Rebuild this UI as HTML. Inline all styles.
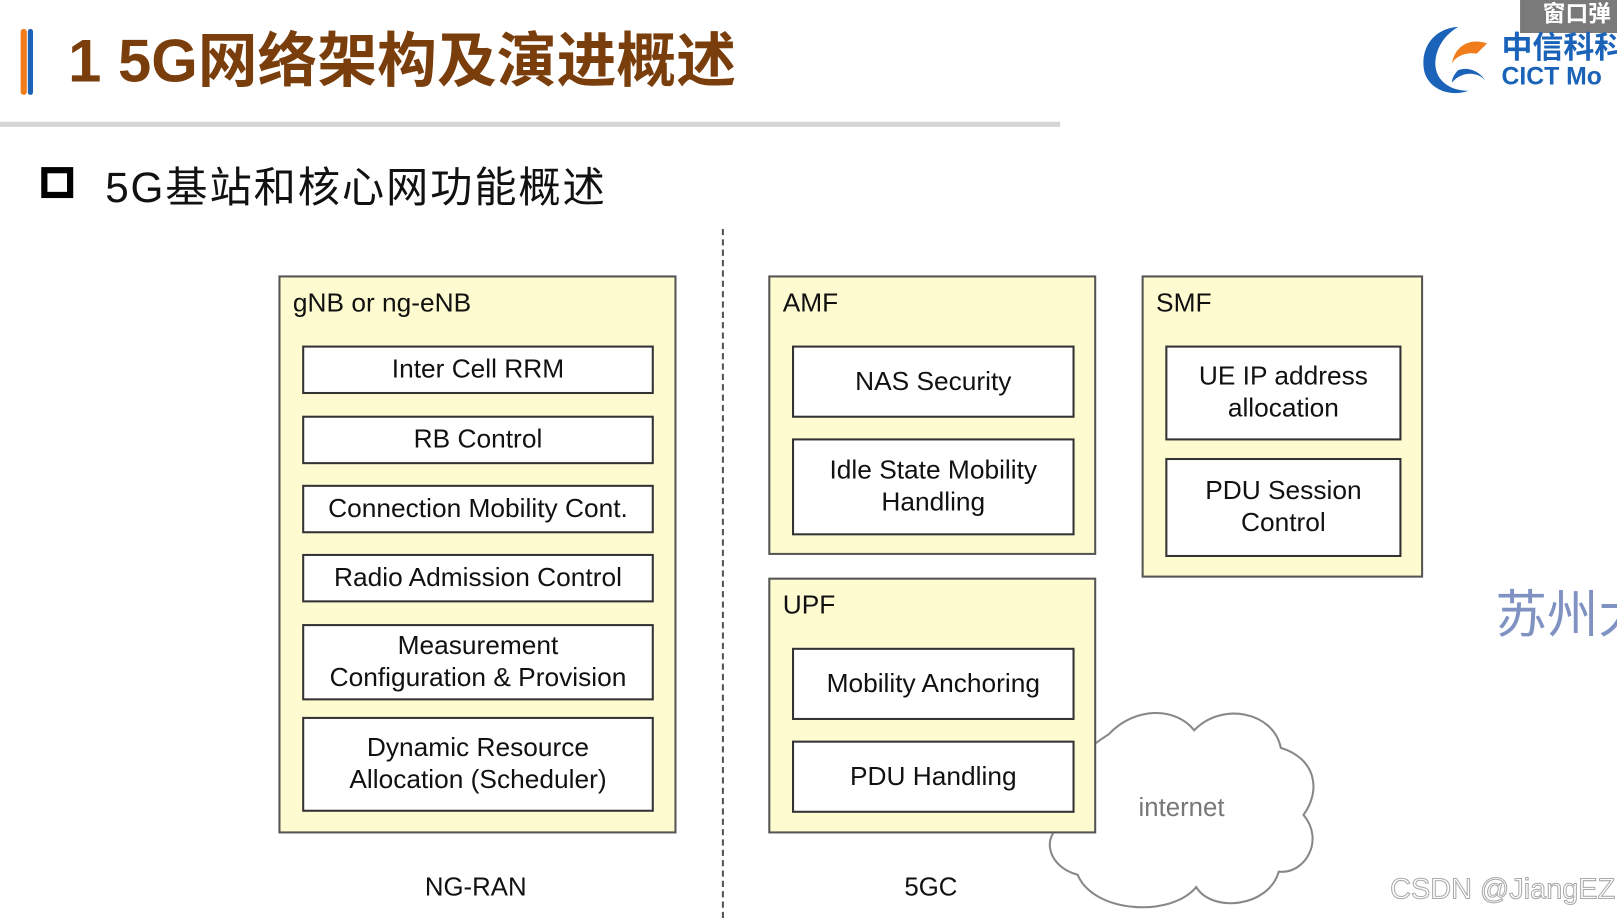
<!DOCTYPE html>
<html><head><meta charset="utf-8"><style>
html,body{margin:0;padding:0;background:#fff;overflow:hidden;width:1617px;height:918px}
#s{position:absolute;left:0;top:0;width:1568px;height:890px;transform:scale(1.03125,1.0315);transform-origin:0 0;font-family:"Liberation Sans","Noto Sans CJK SC",sans-serif}
.a{position:absolute}
.big{background:#fffbd0;border:2px solid #555;box-sizing:border-box}
.lbl{position:absolute;left:12px;top:11px;font-size:25.5px;color:#111}
.in{position:absolute;background:#fff;border:2px solid #333;box-sizing:border-box;display:flex;align-items:center;justify-content:center;text-align:center;font-size:25.5px;color:#111;line-height:31px}
</style></head><body><div id="s">
<div class="a" style="left:20px;top:28px;width:6px;height:64px;background:#f07c1c;border-radius:3px"></div>
<div class="a" style="left:27px;top:28px;width:5px;height:64px;background:#1a63b8;border-radius:3px"></div>
<div class="a" style="left:66px;top:12px;font-size:58px;font-weight:bold;color:#7a3e0c;white-space:nowrap">1 5G网络架构及演进概述</div>
<div class="a" style="left:0;top:118px;width:1028px;height:5px;background:#d6d6d6"></div>
<div class="a" style="left:40px;top:162px;width:31px;height:30px;border:6px solid #000;box-sizing:border-box"></div>
<div class="a" style="left:102px;top:148px;font-size:41px;letter-spacing:1.8px;color:#111;white-space:nowrap">5G基站和核心网功能概述</div>
<div class="a" style="left:1474px;top:0;width:94px;height:32px;background:#7a7a7a;color:#fff;font-size:22px;font-weight:bold;padding-left:22px;box-sizing:border-box;line-height:28px;white-space:nowrap;overflow:hidden">窗口弹</div>
<svg class="a" style="left:1374px;top:22px" width="74" height="72" viewBox="0 0 74 72">
<path d="M40 4 C12 6 2 30 8 50 C14 66 34 72 50 66 C30 66 16 54 18 36 C20 20 30 10 40 4Z" fill="#1a63b8"/>
<path d="M68 20 C50 14 36 24 34 40 C36 34 46 28 58 30 C62 26 66 22 68 20Z" fill="#f07c1c"/>
<path d="M34 58 C44 46 60 48 66 56 C62 48 50 42 40 46 C36 50 34 54 34 58Z" fill="#1a63b8"/>
</svg>
<div class="a" style="left:1456px;top:32px;font-size:30px;line-height:30px;font-weight:bold;color:#1a63b8;white-space:nowrap">中信科科</div>
<div class="a" style="left:1456px;top:63px;font-size:24px;line-height:24px;font-weight:bold;color:#1a63b8;white-space:nowrap">CICT Mo</div>
<div class="a" style="left:1450px;top:556px;font-size:50px;color:#7f92c2;white-space:nowrap">苏州大</div>

<div class="a" style="left:700px;top:222px;height:668px;border-left:2px dashed #555"></div>

<svg class="a" style="left:0;top:0" width="1568" height="890">
<path d="M1075 712 C1100 685 1140 685 1158 708 C1185 680 1235 690 1242 725 C1275 735 1282 765 1264 790 C1285 815 1265 848 1240 845 C1230 880 1175 885 1160 860 C1135 890 1060 885 1045 848 C1015 840 1010 810 1030 800 C1010 780 1030 740 1075 712Z" fill="#fff" stroke="#888" stroke-width="2"/>
</svg>
<div class="a" style="left:1104px;top:769px;font-size:25px;color:#777">internet</div>

<div class="a big" style="left:270px;top:267px;width:386px;height:541px">
<div class="lbl">gNB or ng-eNB</div>
<div class="in" style="left:21px;top:66px;width:341px;height:47px">Inter Cell RRM</div>
<div class="in" style="left:21px;top:134px;width:341px;height:47px">RB Control</div>
<div class="in" style="left:21px;top:201px;width:341px;height:47px">Connection Mobility Cont.</div>
<div class="in" style="left:21px;top:268px;width:341px;height:47px">Radio Admission Control</div>
<div class="in" style="left:21px;top:336px;width:341px;height:74px">Measurement<br>Configuration &amp; Provision</div>
<div class="in" style="left:21px;top:426px;width:341px;height:92px">Dynamic Resource<br>Allocation (Scheduler)</div>
</div>

<div class="a big" style="left:745px;top:267px;width:318px;height:271px">
<div class="lbl">AMF</div>
<div class="in" style="left:21px;top:66px;width:274px;height:70px">NAS Security</div>
<div class="in" style="left:21px;top:156px;width:274px;height:94px">Idle State Mobility<br>Handling</div>
</div>

<div class="a big" style="left:1107px;top:267px;width:273px;height:293px">
<div class="lbl">SMF</div>
<div class="in" style="left:21px;top:66px;width:229px;height:92px">UE IP address<br>allocation</div>
<div class="in" style="left:21px;top:175px;width:229px;height:96px">PDU Session<br>Control</div>
</div>

<div class="a big" style="left:745px;top:560px;width:318px;height:248px">
<div class="lbl">UPF</div>
<div class="in" style="left:21px;top:66px;width:274px;height:70px">Mobility Anchoring</div>
<div class="in" style="left:21px;top:156px;width:274px;height:70px">PDU Handling</div>
</div>

<div class="a" style="left:412px;top:846px;font-size:25px;color:#111">NG-RAN</div>
<div class="a" style="left:877px;top:846px;font-size:25px;color:#111">5GC</div>
<div class="a" style="left:1348px;top:846px;font-size:28px;color:#fff;-webkit-text-stroke:1px #aaa;white-space:nowrap">CSDN @JiangEZ</div>
</div></body></html>
